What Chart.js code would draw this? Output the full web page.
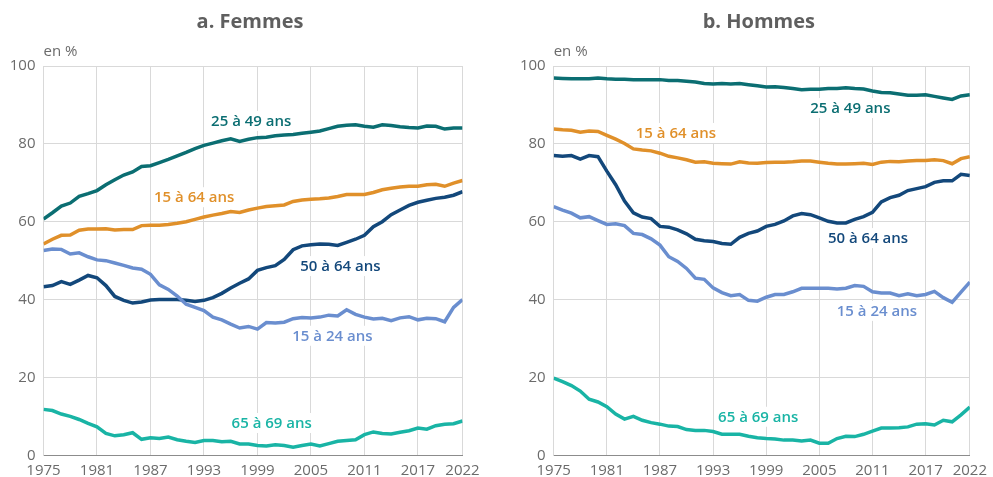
<!DOCTYPE html>
<html lang="fr">
<head>
<meta charset="UTF-8">
<title>Taux d'activité par âge</title>
<script src="https://cdn.jsdelivr.net/npm/chart.js"></script>
<style>
  body { margin: 0; background: #fff; }
  #wrap { position: relative; width: 993px; height: 477px; }
  #wrap canvas { position: absolute; top: 0; }
</style>
</head>
<body>
<div id="wrap">
  <canvas id="femmes" width="496" height="477" style="left:0"></canvas>
  <canvas id="hommes" width="497" height="477" style="left:496px"></canvas>
</div>
<script>
// Années et graduations
const years = [1975, 1976, 1977, 1978, 1979, 1980, 1981, 1982, 1983, 1984, 1985, 1986,
  1987, 1988, 1989, 1990, 1991, 1992, 1993, 1994, 1995, 1996, 1997, 1998, 1999, 2000,
  2001, 2002, 2003, 2004, 2005, 2006, 2007, 2008, 2009, 2010, 2011, 2012, 2013, 2014,
  2015, 2016, 2017, 2018, 2019, 2020, 2021, 2022];
const xTicks = [1975, 1981, 1987, 1993, 1999, 2005, 2011, 2017, 2022];
const yTicks = [0, 20, 40, 60, 80, 100];

const seriesNames = ['25 à 49 ans', '15 à 64 ans', '50 à 64 ans', '15 à 24 ans', '65 à 69 ans'];
const seriesColors = ['#0b6e72', '#e0902a', '#13487b', '#6a8ecf', '#19b4a5'];

// Femmes (en %)
const femmes25_49 = [60.7, 62.3, 64.0, 64.8, 66.5, 67.2, 68.0, 69.5, 70.8, 72.0, 72.8, 74.2,
  74.4, 75.2, 76.0, 76.9, 77.8, 78.8, 79.6, 80.2, 80.8, 81.3, 80.6, 81.2, 81.6, 81.7,
  82.1, 82.3, 82.4, 82.7, 83.0, 83.3, 83.9, 84.5, 84.8, 84.9, 84.5, 84.3, 84.9, 84.7,
  84.4, 84.2, 84.1, 84.6, 84.5, 83.8, 84.1, 84.1];
const femmes15_64 = [54.3, 55.5, 56.5, 56.6, 57.8, 58.1, 58.1, 58.2, 57.9, 58.0, 58.0, 59.0,
  59.1, 59.1, 59.3, 59.6, 60.0, 60.6, 61.2, 61.7, 62.1, 62.6, 62.4, 63.0, 63.5, 63.9,
  64.1, 64.3, 65.2, 65.6, 65.8, 65.9, 66.1, 66.5, 67.0, 67.0, 67.0, 67.5, 68.2, 68.6,
  68.9, 69.1, 69.1, 69.5, 69.6, 69.1, 69.9, 70.6];
const femmes50_64 = [43.3, 43.6, 44.6, 43.9, 45.0, 46.2, 45.6, 43.6, 40.8, 39.8, 39.1, 39.4,
  39.9, 40.0, 40.0, 40.0, 39.8, 39.5, 39.8, 40.5, 41.6, 43.0, 44.2, 45.3, 47.5, 48.2,
  48.7, 50.3, 52.8, 53.8, 54.1, 54.3, 54.2, 53.9, 54.7, 55.5, 56.5, 58.7, 60.0, 61.8,
  63.0, 64.2, 65.0, 65.5, 66.0, 66.3, 66.8, 67.7];
const femmes15_24 = [52.6, 53.0, 52.9, 51.7, 52.0, 51.0, 50.2, 50.0, 49.4, 48.8, 48.1, 47.8,
  46.5, 43.8, 42.6, 40.9, 38.8, 38.0, 37.2, 35.5, 34.8, 33.7, 32.7, 33.1, 32.4, 34.1,
  34.0, 34.2, 35.1, 35.4, 35.3, 35.5, 36.0, 35.8, 37.4, 36.2, 35.5, 35.0, 35.2, 34.6,
  35.3, 35.6, 34.8, 35.2, 35.1, 34.3, 38.0, 40.0];
const femmes65_69 = [11.8, 11.5, 10.6, 10.0, 9.2, 8.2, 7.3, 5.6, 5.0, 5.3, 5.8, 4.1,
  4.5, 4.3, 4.7, 4.0, 3.6, 3.3, 3.8, 3.8, 3.5, 3.6, 2.9, 2.9, 2.5, 2.4,
  2.7, 2.5, 2.1, 2.5, 2.9, 2.4, 3.0, 3.6, 3.8, 4.0, 5.3, 6.0, 5.6, 5.5,
  5.9, 6.3, 7.0, 6.7, 7.6, 8.0, 8.1, 8.8];

// Hommes (en %)
const hommes25_49 = [96.9, 96.8, 96.7, 96.7, 96.7, 96.9, 96.7, 96.6, 96.6, 96.5, 96.5, 96.5,
  96.5, 96.3, 96.3, 96.1, 95.9, 95.5, 95.4, 95.5, 95.4, 95.5, 95.2, 94.9, 94.6, 94.7,
  94.5, 94.2, 93.9, 94.0, 94.0, 94.2, 94.2, 94.4, 94.2, 94.1, 93.6, 93.2, 93.1, 92.8,
  92.5, 92.5, 92.6, 92.2, 91.8, 91.4, 92.3, 92.6];
const hommes15_64 = [83.8, 83.6, 83.5, 83.0, 83.3, 83.2, 82.2, 81.2, 80.1, 78.7, 78.4, 78.2,
  77.6, 76.8, 76.4, 75.9, 75.3, 75.4, 75.0, 74.9, 74.8, 75.4, 75.1, 75.0, 75.2, 75.3,
  75.3, 75.4, 75.6, 75.6, 75.3, 75.0, 74.8, 74.8, 74.9, 75.0, 74.7, 75.3, 75.5, 75.4,
  75.6, 75.7, 75.7, 75.9, 75.7, 74.9, 76.2, 76.7];
const hommes50_64 = [77.0, 76.8, 77.0, 76.1, 77.0, 76.7, 73.0, 69.5, 65.3, 62.3, 61.2, 60.8,
  58.8, 58.6, 57.9, 56.9, 55.5, 55.1, 54.9, 54.4, 54.2, 56.0, 57.0, 57.6, 58.8, 59.3,
  60.2, 61.5, 62.1, 61.8, 61.0, 60.1, 59.7, 59.7, 60.6, 61.3, 62.4, 65.1, 66.2, 66.8,
  68.0, 68.5, 69.0, 70.1, 70.5, 70.5, 72.2, 71.9];
const hommes15_24 = [63.9, 63.0, 62.2, 61.0, 61.3, 60.3, 59.3, 59.5, 59.0, 57.0, 56.7, 55.6,
  54.0, 51.0, 49.8, 48.0, 45.5, 45.2, 43.0, 41.8, 41.0, 41.3, 39.8, 39.6, 40.6, 41.3,
  41.3, 42.0, 42.9, 42.9, 42.9, 42.9, 42.7, 42.9, 43.6, 43.4, 42.0, 41.7, 41.7, 41.0,
  41.5, 41.0, 41.3, 42.1, 40.5, 39.3, 41.9, 44.5];
const hommes65_69 = [19.8, 18.9, 17.9, 16.5, 14.4, 13.7, 12.5, 10.6, 9.3, 10.0, 9.0, 8.4,
  8.0, 7.5, 7.4, 6.6, 6.4, 6.4, 6.1, 5.4, 5.4, 5.4, 4.9, 4.5, 4.3, 4.2,
  3.9, 3.9, 3.7, 3.9, 3.1, 3.1, 4.3, 4.9, 4.8, 5.4, 6.2, 7.0, 7.0, 7.1,
  7.3, 8.0, 8.1, 7.8, 9.0, 8.6, 10.4, 12.4];

// Emplacement des étiquettes (année, valeur)
const femmesLabelAt = [[1998.3, 85.9], [1991.9, 66.3], [2008.3, 48.6], [2007.4, 30.7], [2000.6, 8.3]];
const hommesLabelAt = [[2008.5, 89.2], [1988.8, 82.8], [2010.5, 55.8], [2011.5, 37.1], [1998.1, 9.9]];

const FONT = "'Open Sans', 'Noto Sans', sans-serif";

// Titre, unité et étiquettes des courbes
const textPlugin = {
  id: 'textes',
  afterDatasetsDraw(chart, args, opts) {
    const ctx = chart.ctx;
    const area = chart.chartArea;
    const xs = chart.scales.x, ys = chart.scales.y;
    ctx.save();
    ctx.textBaseline = 'alphabetic';
    ctx.textAlign = 'center';
    ctx.fillStyle = '#5f5f5f';
    ctx.font = 'bold 20px ' + FONT;
    ctx.fillText(opts.title, (area.left + area.right) / 2 - 3, 28);
    ctx.textAlign = 'left';
    ctx.fillStyle = '#6b6b6b';
    ctx.font = '15px ' + FONT;
    ctx.fillText('en %', area.left, 56);

    ctx.font = '600 15px ' + FONT;
    ctx.textAlign = 'center';
    ctx.textBaseline = 'middle';
    opts.labels.forEach((pos, i) => {
      const x = xs.getPixelForValue(pos[0]);
      const y = ys.getPixelForValue(pos[1]);
      const w = ctx.measureText(seriesNames[i]).width;
      ctx.fillStyle = '#fff';
      ctx.fillRect(x - w / 2 - 3, y - 10, w + 6, 20);
      ctx.fillStyle = seriesColors[i];
      ctx.fillText(seriesNames[i], x, y + 1);
    });
    ctx.restore();
  }
};

function makeChart(id, title, values, labelAt, yWidth, padRight) {
  const datasets = values.map((vals, i) => ({
    label: seriesNames[i],
    data: years.map((yr, j) => ({ x: yr, y: vals[j] })),
    borderColor: seriesColors[i],
    borderWidth: 3.5,
    pointRadius: 0,
    tension: 0,
    fill: false
  })).reverse();

  return new Chart(document.getElementById(id), {
    type: 'line',
    data: { datasets },
    plugins: [textPlugin],
    options: {
      responsive: false,
      animation: false,
      layout: { padding: { top: 66, right: padRight, left: 0, bottom: 0 } },
      plugins: {
        legend: { display: false },
        tooltip: { enabled: false },
        textes: { title: title, labels: labelAt }
      },
      scales: {
        x: {
          type: 'linear',
          min: 1975,
          max: 2022,
          afterBuildTicks: s => { s.ticks = xTicks.map(v => ({ value: v })); },
          afterFit: s => { s.height = 21.7; },
          grid: { color: '#d9d9d9', lineWidth: 1, drawTicks: false },
          border: { color: '#8c8c8c', width: 1 },
          ticks: {
            padding: 6,
            maxRotation: 0,
            autoSkip: false,
            color: '#6b6b6b',
            font: { family: FONT, size: 15 },
            callback: v => String(v)
          }
        },
        y: {
          min: 0,
          max: 100,
          afterBuildTicks: s => { s.ticks = yTicks.map(v => ({ value: v })); },
          afterFit: s => { s.width = yWidth; },
          grid: { color: '#d9d9d9', lineWidth: 1, drawTicks: false },
          border: { color: '#d9d9d9', width: 1 },
          ticks: {
            padding: 8,
            color: '#6b6b6b',
            font: { family: FONT, size: 15 }
          }
        }
      }
    }
  });
}

makeChart('femmes', 'a. Femmes',
  [femmes25_49, femmes15_64, femmes50_64, femmes15_24, femmes65_69],
  femmesLabelAt, 43.5, 33.5);
makeChart('hommes', 'b. Hommes',
  [hommes25_49, hommes15_64, hommes50_64, hommes15_24, hommes65_69],
  hommesLabelAt, 57.7, 19.7);
</script>
</body>
</html>
